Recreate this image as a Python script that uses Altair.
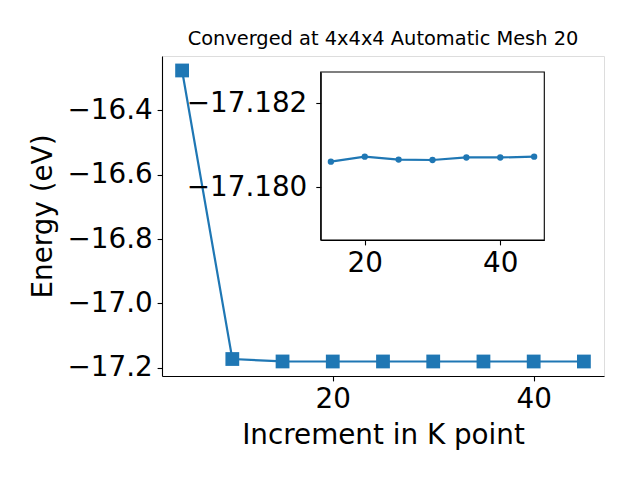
import altair as alt
import pandas as pd

# Data
k_points = [5, 10, 15, 20, 25, 30, 35, 40, 45]
inset_k = [15, 20, 25, 30, 35, 40, 45]
inset_energy = [-17.18061, -17.18073, -17.18066, -17.18065, -17.18071, -17.18071, -17.18073]
energy = [-16.276, -17.173] + inset_energy

main_x_domain = [3, 47]
main_y_domain = [-17.2258, -16.231]
main_y_ticks = [-17.2, -17.0, -16.8, -16.6, -16.4]
main_x_ticks = [20, 40]

inset_x_domain = [13.5, 46.5]
inset_y_domain = [-17.182745, -17.178745]
inset_x_ticks = [20, 40]
inset_y_ticks = [-17.182, -17.180]

BLUE = "#1f77b4"
FONT = "DejaVu Sans"
FS = 27.8

df_main = pd.DataFrame({"k": k_points, "E": energy})
df_inset = pd.DataFrame({"k": inset_k, "E": inset_energy})
df_frame = pd.DataFrame({"x0": [inset_x_domain[0]], "x1": [inset_x_domain[1]],
                         "y0": [inset_y_domain[0]], "y1": [inset_y_domain[1]]})

W, H = 442, 320
# inset placement in plot-area pixels
IX0, IX1 = 158.7, 382.3
IY0, IY1 = 16, 184

axis_common = dict(labelFont=FONT, labelFontSize=FS, labelColor="black",
                   tickColor="black", tickSize=4.9, tickWidth=1.1,
                   domainColor="black", domainWidth=1.1,
                   grid=False, titleFont=FONT, titleFontSize=FS,
                   titleFontWeight="normal", titleColor="black")

main_x = alt.X("k:Q", scale=alt.Scale(domain=main_x_domain, nice=False, zero=False),
               axis=alt.Axis(values=main_x_ticks, title="Increment in K point",
                             format="d", titlePadding=8, labelPadding=4.9, **axis_common))
main_y = alt.Y("E:Q", scale=alt.Scale(domain=main_y_domain, nice=False, zero=False),
               axis=alt.Axis(values=main_y_ticks, title="Energy (eV)", format=".1f",
                             titlePadding=10, labelPadding=4.9, **axis_common))

main_base = alt.Chart(df_main).encode(x=main_x, y=main_y)
main_line = main_base.mark_line(color=BLUE, strokeWidth=2.2)
main_pts = main_base.mark_point(shape="square", filled=True, size=190, color=BLUE, opacity=1)
main = alt.layer(main_line, main_pts)

sx_in = alt.Scale(domain=inset_x_domain, range=[IX0, IX1], nice=False, zero=False)
sy_in = alt.Scale(domain=inset_y_domain, range=[IY0, IY1], nice=False, zero=False)

inset_axis_x = alt.Axis(values=inset_x_ticks, title=None, format="d", orient="bottom",
                        offset=IY1 - H, zindex=1, labelPadding=4.9, **axis_common)
inset_axis_y = alt.Axis(values=inset_y_ticks, title=None, format=".3f", orient="left",
                        offset=-IX0, zindex=1, labelPadding=9, **axis_common)

frame = alt.Chart(df_frame).mark_rect(fill="white", stroke="black", strokeWidth=1.1).encode(
    x=alt.X("x0:Q", scale=sx_in, axis=inset_axis_x),
    x2="x1:Q",
    y=alt.Y("y0:Q", scale=sy_in, axis=inset_axis_y),
    y2="y1:Q",
)
inset_base = alt.Chart(df_inset).encode(
    x=alt.X("k:Q", scale=sx_in, axis=inset_axis_x),
    y=alt.Y("E:Q", scale=sy_in, axis=inset_axis_y),
)
inset_line = inset_base.mark_line(color=BLUE, strokeWidth=2.2)
inset_pts = inset_base.mark_point(shape="circle", filled=True, size=40, color=BLUE, opacity=1)
inset = alt.layer(frame, inset_line, inset_pts)

chart = alt.layer(main, inset).resolve_scale(x="independent", y="independent").properties(
    width=W, height=H,
    autosize="none",
    padding={"left": 154, "top": 48, "right": 28, "bottom": 96},
    title=alt.Title("Converged at 4x4x4 Automatic Mesh 20", font=FONT, fontSize=19.4,
                    fontWeight="normal", color="black", anchor="middle", frame="group",
                    offset=7),
).configure_view(stroke="black", strokeWidth=1.1).configure(background="white")

chart.save("out.html", embed_options={"renderer": "svg", "actions": False})
